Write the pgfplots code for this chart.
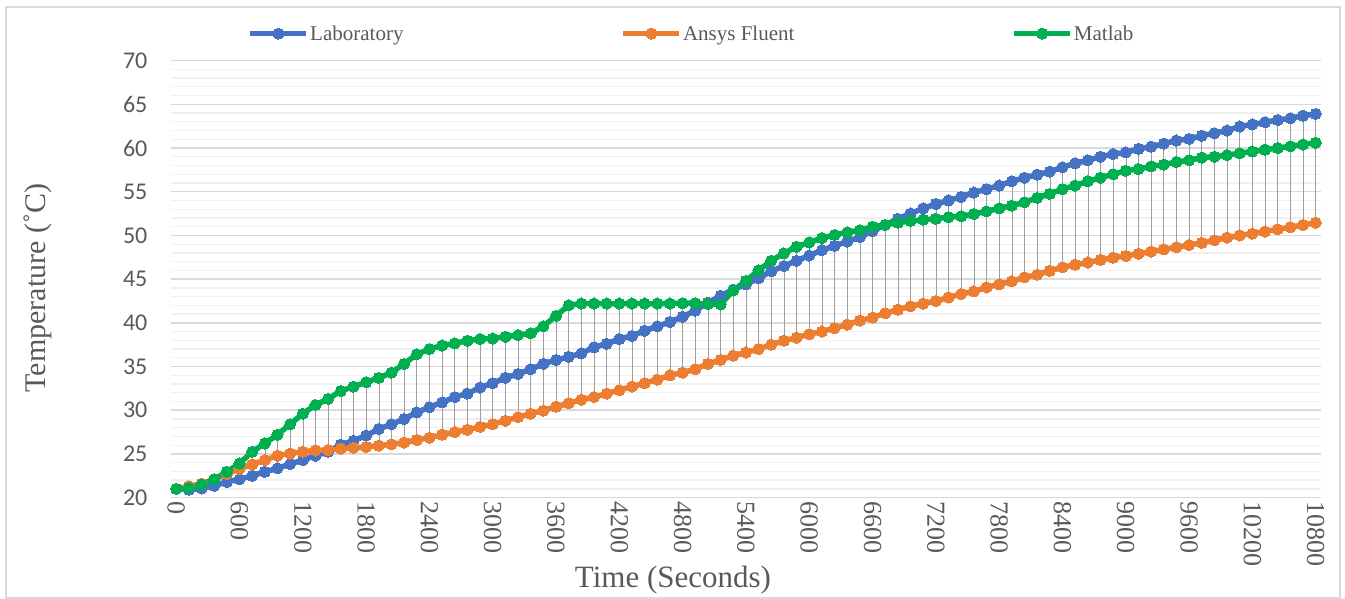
\documentclass[border=0pt]{standalone}
\usepackage{fontspec}
\setmainfont{Liberation Serif}
\newfontfamily\carlito{Carlito}
\usepackage{pgfplots}
\usepackage{pgfplotstable}
\pgfplotsset{compat=1.18}
\definecolor{cLab}{HTML}{4472C4}
\definecolor{cAns}{HTML}{ED7D31}
\definecolor{cMat}{HTML}{00B050}
\definecolor{txt}{HTML}{595959}

\pgfplotstableread{
t lab ans mat
0 21.0 21.0 21.0
120 20.9 21.3 21.1
240 21.05 21.6 21.5
360 21.35 22.1 22.1
480 21.8 22.7 22.95
600 22.1 23.3 23.9
720 22.5 23.8 25.25
840 22.95 24.3 26.2
960 23.35 24.8 27.2
1080 23.85 25.05 28.4
1200 24.3 25.25 29.6
1320 24.8 25.4 30.6
1440 25.25 25.45 31.3
1560 26.05 25.6 32.2
1680 26.5 25.7 32.7
1800 27.1 25.8 33.2
1920 27.85 25.95 33.7
2040 28.4 26.1 34.3
2160 29.0 26.3 35.3
2280 29.75 26.6 36.4
2400 30.35 26.85 37.0
2520 30.9 27.2 37.4
2640 31.5 27.5 37.65
2760 31.9 27.75 37.95
2880 32.6 28.1 38.15
3000 33.1 28.4 38.2
3120 33.7 28.8 38.4
3240 34.15 29.2 38.6
3360 34.7 29.6 38.8
3480 35.3 29.95 39.6
3600 35.75 30.4 40.8
3720 36.1 30.8 42.0
3840 36.5 31.2 42.2
3960 37.2 31.5 42.2
4080 37.6 31.9 42.2
4200 38.15 32.3 42.2
4320 38.5 32.7 42.2
4440 39.1 33.1 42.2
4560 39.6 33.5 42.2
4680 40.1 34.0 42.2
4800 40.7 34.3 42.25
4920 41.4 34.7 42.25
5040 42.3 35.3 42.15
5160 43.1 35.75 42.1
5280 43.8 36.25 43.7
5400 44.4 36.6 44.8
5520 45.1 37.0 46.0
5640 45.9 37.5 47.1
5760 46.5 37.95 47.95
5880 47.1 38.3 48.7
6000 47.7 38.7 49.2
6120 48.3 39.0 49.7
6240 48.8 39.4 50.05
6360 49.3 39.8 50.35
6480 49.8 40.25 50.6
6600 50.5 40.6 51.0
6720 51.2 41.1 51.2
6840 51.9 41.5 51.45
6960 52.5 41.9 51.65
7080 53.1 42.2 51.8
7200 53.6 42.5 51.9
7320 54.0 42.9 52.1
7440 54.4 43.3 52.2
7560 54.9 43.6 52.45
7680 55.3 44.05 52.75
7800 55.7 44.4 53.1
7920 56.2 44.75 53.4
8040 56.6 45.2 53.8
8160 56.95 45.5 54.3
8280 57.3 45.95 54.75
8400 57.8 46.35 55.3
8520 58.25 46.65 55.7
8640 58.6 46.9 56.2
8760 59.0 47.2 56.6
8880 59.3 47.45 57.0
9000 59.5 47.65 57.4
9120 59.9 47.9 57.6
9240 60.15 48.15 57.9
9360 60.5 48.4 58.1
9480 60.85 48.65 58.4
9600 61.05 48.9 58.6
9720 61.4 49.15 58.9
9840 61.7 49.45 59.0
9960 62.0 49.75 59.2
10080 62.45 50.0 59.4
10200 62.7 50.2 59.6
10320 62.95 50.45 59.8
10440 63.2 50.7 60.0
10560 63.4 50.95 60.2
10680 63.7 51.2 60.4
10800 63.9 51.45 60.6
}\datatable

\begin{document}
\begin{tikzpicture}[x=1pt,y=1pt]
\path[use as bounding box] (0,0) rectangle (1345,599);
\draw[color=black!15, line width=1.2pt] (6,1) rectangle (1340,592);
\begin{axis}[
  at={(162,116)}, anchor=south west,
  scale only axis, width=1150pt, height=437pt,
  xmin=-50, xmax=10850, ymin=20, ymax=70,
  clip=false,
  scaled x ticks=false, scaled y ticks=false,
  axis line style={draw=none},
  tick style={draw=none},
  xtick={0,600,...,10800},
  xticklabels={0,600,1200,1800,2400,3000,3600,4200,4800,5400,6000,6600,7200,7800,8400,9000,9600,10200,10800},
  ytick={20,25,...,70},
  minor y tick num=4,
  ymajorgrids, yminorgrids,
  major grid style={line width=1.5pt, color=black!15},
  minor grid style={line width=1.3pt, color=black!6},
  /pgf/number format/assume math mode=true,
  xticklabel style={rotate=-90, anchor=west, font=\fontsize{26}{30}\selectfont, text=txt},
  yticklabel style={font=\carlito\fontsize{24}{28}\selectfont, text=txt, xshift=-20pt},
  legend columns=3,
  legend cell align=left,
  legend style={draw=none, fill=none, at={(0.064,1.0618)}, anchor=west,
    font=\fontsize{21}{25}\selectfont, text=txt,
    nodes={inner xsep=1pt},
    /tikz/every even column/.append style={column sep=216pt}},
  legend image code/.code={\draw[mark repeat=2,mark phase=2,#1] plot coordinates {(0pt,0pt) (28pt,0pt) (56pt,0pt)};},
]
\addplot[forget plot, only marks, mark=none,
  error bars/.cd, y dir=plus, y explicit, error mark=none,
  error bar style={line width=0.5pt, color=black!38}]
  table[x=t, y expr={min(\thisrow{lab},\thisrow{ans},\thisrow{mat})},
    y error plus expr={max(\thisrow{lab},\thisrow{ans},\thisrow{mat})-min(\thisrow{lab},\thisrow{ans},\thisrow{mat})}] {\datatable};
\addplot[cLab, line width=5.5pt, mark=*, mark size=5.6pt, mark options={line width=0pt}] table[x=t, y=lab] {\datatable};
\addlegendentry{Laboratory}
\addplot[cAns, line width=5.5pt, mark=*, mark size=5.6pt, mark options={line width=0pt}] table[x=t, y=ans] {\datatable};
\addlegendentry{Ansys Fluent}
\addplot[cMat, line width=5.5pt, mark=*, mark size=5.6pt, mark options={line width=0pt}] table[x=t, y=mat] {\datatable};
\addlegendentry{Matlab}
\end{axis}
\node[text=txt, font=\fontsize{31}{35}\selectfont] at (673,19) {Time (Seconds)};
\node[text=txt, font=\fontsize{30}{34}\selectfont, rotate=90] at (38,311) {Temperature (˚C)};
\end{tikzpicture}
\end{document}
